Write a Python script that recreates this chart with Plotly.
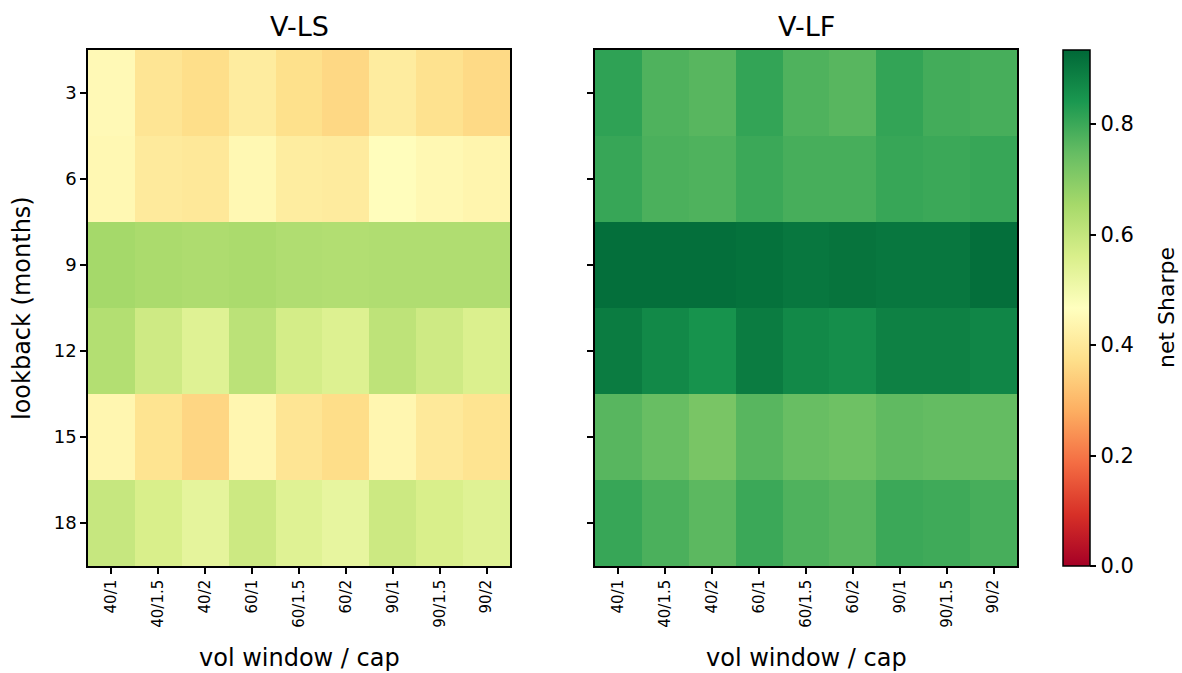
import plotly.graph_objects as go

x_labels = ["40/1", "40/1.5", "40/2", "60/1", "60/1.5", "60/2", "90/1", "90/1.5", "90/2"]
y_labels = ["3", "6", "9", "12", "15", "18"]

vls = [
    [0.45, 0.39, 0.372, 0.41, 0.376, 0.358, 0.41, 0.38, 0.362],
    [0.445, 0.405, 0.398, 0.445, 0.412, 0.408, 0.462, 0.445, 0.437],
    [0.655, 0.645, 0.64, 0.645, 0.635, 0.632, 0.635, 0.635, 0.635],
    [0.63, 0.58, 0.545, 0.615, 0.57, 0.55, 0.61, 0.58, 0.555],
    [0.44, 0.385, 0.355, 0.44, 0.39, 0.37, 0.44, 0.40, 0.385],
    [0.595, 0.56, 0.53, 0.585, 0.545, 0.525, 0.585, 0.56, 0.545],
]
vlf = [
    [0.815, 0.775, 0.765, 0.81, 0.775, 0.765, 0.81, 0.79, 0.785],
    [0.805, 0.78, 0.775, 0.80, 0.785, 0.785, 0.805, 0.80, 0.805],
    [0.92, 0.92, 0.92, 0.915, 0.905, 0.91, 0.905, 0.905, 0.92],
    [0.895, 0.87, 0.85, 0.895, 0.87, 0.86, 0.885, 0.885, 0.875],
    [0.765, 0.745, 0.72, 0.765, 0.745, 0.735, 0.755, 0.75, 0.75],
    [0.805, 0.78, 0.76, 0.80, 0.775, 0.765, 0.80, 0.795, 0.785],
]
zmin, zmax = 0.0, 0.934
cbar_ticks = [0.0, 0.2, 0.4, 0.6, 0.8]

W, H = 1182, 673
def px(x): return x / W
def py(y): return 1 - y / H

font = "DejaVu Sans"
fig = go.Figure()
fig.add_trace(go.Heatmap(z=vls, x=x_labels, y=y_labels, colorscale="RdYlGn",
                         zmin=zmin, zmax=zmax, showscale=False, xaxis="x", yaxis="y"))
fig.add_trace(go.Heatmap(z=vlf, x=x_labels, y=y_labels, colorscale="RdYlGn",
                         zmin=zmin, zmax=zmax, xaxis="x2", yaxis="y2",
                         colorbar=dict(
                             x=px(1063), xanchor="left", y=py(308), yanchor="middle",
                             xpad=0, ypad=0,
                             len=516, lenmode="pixels", thickness=27, thicknessmode="pixels",
                             outlinewidth=1.5, outlinecolor="black",
                             tickmode="array", tickvals=cbar_ticks,
                             ticktext=[f"{v:.1f}" for v in cbar_ticks],
                             ticks="outside", ticklen=6, tickwidth=1.5, tickcolor="black",
                             tickfont=dict(family=font, size=21, color="black"),
                         )))

axis_common = dict(showline=True, linecolor="black", linewidth=1.5, mirror=True,
                   ticks="outside", ticklen=6, tickwidth=1.5, tickcolor="black",
                   showgrid=False, zeroline=False)

fig.update_layout(
    width=W, height=H, margin=dict(l=0, r=0, t=0, b=0),
    paper_bgcolor="white", plot_bgcolor="white",
    font=dict(family=font, color="black"),
    xaxis=dict(domain=[px(88), px(510)], anchor="y", tickangle=-90,
               tickfont=dict(size=15), **axis_common),
    yaxis=dict(domain=[py(566), py(50)], anchor="x", autorange="reversed",
               tickfont=dict(size=18), **axis_common),
    xaxis2=dict(domain=[px(595), px(1017)], anchor="y2", tickangle=-90,
                tickfont=dict(size=15), **axis_common),
    yaxis2=dict(domain=[py(566), py(50)], anchor="x2", autorange="reversed",
                showticklabels=False, **axis_common),
    annotations=[
        dict(text="V-LS", x=px(299), y=py(27), xref="paper", yref="paper",
             xanchor="center", yanchor="middle",
             showarrow=False, font=dict(size=27, family=font, color="black")),
        dict(text="V-LF", x=px(806), y=py(27), xref="paper", yref="paper",
             xanchor="center", yanchor="middle",
             showarrow=False, font=dict(size=27, family=font, color="black")),
        dict(text="vol window / cap", x=px(299), y=py(658), xref="paper", yref="paper",
             xanchor="center", yanchor="middle",
             showarrow=False, font=dict(size=24, family=font, color="black")),
        dict(text="vol window / cap", x=px(806), y=py(658), xref="paper", yref="paper",
             xanchor="center", yanchor="middle",
             showarrow=False, font=dict(size=24, family=font, color="black")),
        dict(text="lookback (months)", x=px(22), y=py(308), xref="paper", yref="paper",
             xanchor="center", yanchor="middle", textangle=-90,
             showarrow=False, font=dict(size=24, family=font, color="black")),
        dict(text="net Sharpe", x=px(1167), y=py(308), xref="paper", yref="paper",
             xanchor="center", yanchor="middle", textangle=-90, borderpad=0,
             showarrow=False, font=dict(size=22, family=font, color="black")),
    ],
)

fig.write_html("out.html")
